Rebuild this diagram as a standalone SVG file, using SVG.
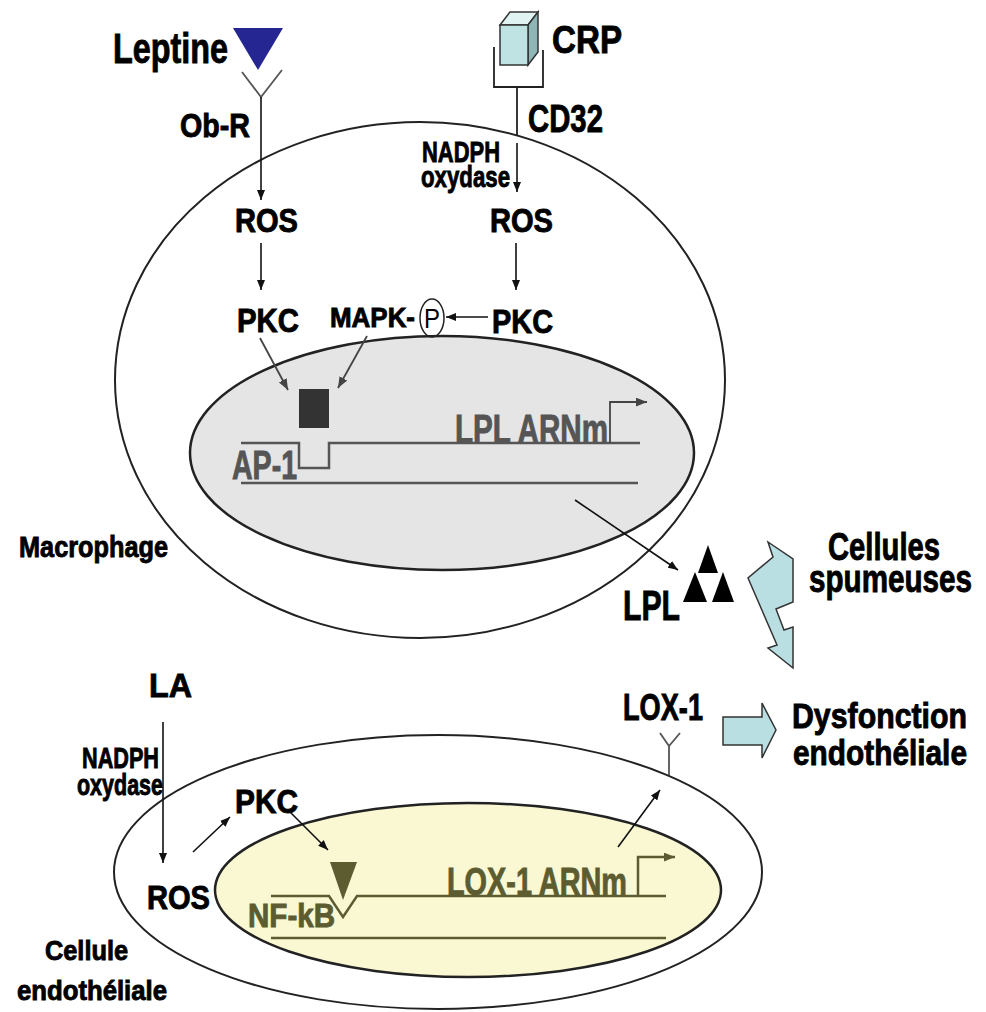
<svg xmlns="http://www.w3.org/2000/svg" width="986" height="1012" viewBox="0 0 986 1012">
  <style>
    .t { font-family: "Liberation Sans", Arial, sans-serif; font-weight: bold; fill: #000; stroke: #000; stroke-width: 0.9; }
    .g { fill: #555; stroke: #555; }
    .o { fill: #5c5c30; stroke: #5c5c30; }
    .cell { fill: none; stroke: #222; stroke-width: 2; }
    .ln { fill: none; stroke: #111; stroke-width: 1.6; }
    .lg { fill: none; stroke: #444; stroke-width: 1.8; }
    .dna { fill: none; stroke: #555; stroke-width: 2.5; }
    .dnao { fill: none; stroke: #5c5c30; stroke-width: 2.5; }
    .rec { fill: none; stroke: #555; stroke-width: 1.8; }
    .blk { fill: none; stroke: #222; stroke-width: 1.8; }
    .big { fill: #b9dfe3; stroke: #333; stroke-width: 1.5; }
  </style>
  <defs>
    <marker id="ah" viewBox="0 0 10 8" refX="10" refY="4" markerWidth="10" markerHeight="8" markerUnits="userSpaceOnUse" orient="auto">
      <path d="M0,0 L10,4 L0,8 z" fill="#111"/>
    </marker>
    <marker id="ahg" viewBox="0 0 10 8" refX="10" refY="4" markerWidth="11" markerHeight="9" markerUnits="userSpaceOnUse" orient="auto">
      <path d="M0,0 L10,4 L0,8 z" fill="#444"/>
    </marker>
    <marker id="aho" viewBox="0 0 10 8" refX="10" refY="4" markerWidth="11" markerHeight="9" markerUnits="userSpaceOnUse" orient="auto">
      <path d="M0,0 L10,4 L0,8 z" fill="#5c5c30"/>
    </marker>
  </defs>

  <rect width="986" height="1012" fill="#fff"/>

  <!-- macrophage -->
  <g id="macrophage">
    <ellipse class="cell" cx="420" cy="380" rx="305" ry="258"/>
    <text class="t" x="19" y="557" font-size="30" textLength="149" lengthAdjust="spacingAndGlyphs">Macrophage</text>
  </g>
  <g id="macrophage-nucleus">
    <ellipse cx="442" cy="453" rx="252" ry="117" fill="#e5e5e5" stroke="#222" stroke-width="2.5"/>
    <path class="dna" d="M241,443 H299 V468 H329 V443 H640"/>
    <path class="dna" d="M241,483 H638"/>
    <rect x="299" y="389" width="30" height="39" fill="#333"/>
    <text class="t g" x="232" y="479" font-size="40" textLength="65" lengthAdjust="spacingAndGlyphs">AP-1</text>
    <text class="t g" x="455" y="443" font-size="40" textLength="153" lengthAdjust="spacingAndGlyphs">LPL ARNm</text>
  </g>

  <!-- endothelial cell -->
  <g id="endothelial-cell">
    <ellipse class="cell" cx="438" cy="872" rx="324" ry="137"/>
    <text class="t" x="45" y="960" font-size="28" textLength="83" lengthAdjust="spacingAndGlyphs">Cellule</text>
    <text class="t" x="17" y="1000" font-size="28" textLength="150" lengthAdjust="spacingAndGlyphs">endothéliale</text>
  </g>
  <g id="endothelial-nucleus">
    <ellipse cx="468" cy="890" rx="253" ry="87" fill="#f9f8d3" stroke="#222" stroke-width="2.5"/>
    <path class="dnao" d="M271,896 H329 L343,917 L357,896 H666"/>
    <path class="dnao" d="M271,938 H666"/>
    <polygon points="330,862 357,862 343,900" fill="#5c5c30"/>
    <text class="t o" x="248" y="927" font-size="33" textLength="87" lengthAdjust="spacingAndGlyphs">NF-kB</text>
    <text class="t o" x="447" y="895" font-size="39" textLength="180" lengthAdjust="spacingAndGlyphs">LOX-1 ARNm</text>
  </g>

  <!-- leptin and its receptor -->
  <g id="leptine">
    <polygon points="233,28 283,28 258,70" fill="#262693"/>
    <text class="t" x="113" y="63" font-size="42" textLength="115" lengthAdjust="spacingAndGlyphs">Leptine</text>
  </g>
  <g id="ob-r">
    <path class="rec" d="M242,72 L261,97 L282,70"/>
    <text class="t" x="180" y="137" font-size="34" textLength="70" lengthAdjust="spacingAndGlyphs">Ob-R</text>
  </g>

  <!-- CRP and CD32 -->
  <g id="crp">
    <polygon points="500,25 510,12 538,12 528,25" fill="#e0f2f2" stroke="#333" stroke-width="1.5"/>
    <polygon points="528,25 538,12 538,52 528,65" fill="#8fb6b6" stroke="#333" stroke-width="1.5"/>
    <rect x="500" y="25" width="28" height="40" fill="#bfe3e3" stroke="#333" stroke-width="1.5"/>
    <text class="t" x="552" y="53" font-size="38" textLength="70" lengthAdjust="spacingAndGlyphs">CRP</text>
  </g>
  <g id="cd32">
    <path class="blk" d="M494,47 V87 H543 V50"/>
    <path class="blk" d="M517,87 V135"/>
    <text class="t" x="528" y="132" font-size="39" textLength="75" lengthAdjust="spacingAndGlyphs">CD32</text>
  </g>
  <g id="nadph-1">
    <text class="t" x="422" y="162" font-size="30" textLength="78" lengthAdjust="spacingAndGlyphs">NADPH</text>
    <text class="t" x="421" y="187" font-size="30" textLength="89" lengthAdjust="spacingAndGlyphs">oxydase</text>
  </g>

  <g id="ros-1"><text class="t" x="235" y="232" font-size="33" textLength="63" lengthAdjust="spacingAndGlyphs">ROS</text></g>
  <g id="ros-2"><text class="t" x="490" y="232" font-size="33" textLength="63" lengthAdjust="spacingAndGlyphs">ROS</text></g>
  <g id="pkc-1"><text class="t" x="237" y="332" font-size="34" textLength="62" lengthAdjust="spacingAndGlyphs">PKC</text></g>
  <g id="pkc-2"><text class="t" x="492" y="333" font-size="34" textLength="61" lengthAdjust="spacingAndGlyphs">PKC</text></g>
  <g id="mapk-p">
    <text class="t" x="330" y="327" font-size="28" textLength="85" lengthAdjust="spacingAndGlyphs">MAPK-</text>
    <ellipse cx="432" cy="318" rx="12" ry="19" fill="none" stroke="#222" stroke-width="1.5"/>
    <text x="432" y="328" font-family="Liberation Sans, Arial, sans-serif" font-size="28" text-anchor="middle" textLength="16" lengthAdjust="spacingAndGlyphs">P</text>
  </g>

  <!-- LPL product -->
  <g id="lpl">
    <polygon points="708,545 718,573 698,573" fill="#000"/>
    <polygon points="695,572 707,602 683,602" fill="#000"/>
    <polygon points="723,572 734,602 712,602" fill="#000"/>
    <text class="t" x="623" y="620" font-size="42" textLength="57" lengthAdjust="spacingAndGlyphs">LPL</text>
  </g>
  <g id="cellules-spumeuses">
    <text class="t" x="828" y="560" font-size="38" textLength="112" lengthAdjust="spacingAndGlyphs">Cellules</text>
    <text class="t" x="809" y="592" font-size="39" textLength="163" lengthAdjust="spacingAndGlyphs">spumeuses</text>
  </g>
  <g id="dysfonction">
    <text class="t" x="792" y="728" font-size="35" textLength="175" lengthAdjust="spacingAndGlyphs">Dysfonction</text>
    <text class="t" x="793" y="765" font-size="35" textLength="174" lengthAdjust="spacingAndGlyphs">endothéliale</text>
  </g>
  <g id="lox-1">
    <path class="rec" d="M660,733 L669,746 L680,733"/>
    <path class="rec" d="M669,746 V775"/>
    <text class="t" x="623" y="720" font-size="37" textLength="80" lengthAdjust="spacingAndGlyphs">LOX-1</text>
  </g>

  <!-- linoleic acid pathway -->
  <g id="la"><text class="t" x="149" y="697" font-size="34" textLength="43" lengthAdjust="spacingAndGlyphs">LA</text></g>
  <g id="nadph-2">
    <text class="t" x="82" y="768" font-size="29" textLength="77" lengthAdjust="spacingAndGlyphs">NADPH</text>
    <text class="t" x="77" y="795" font-size="29" textLength="86" lengthAdjust="spacingAndGlyphs">oxydase</text>
  </g>
  <g id="ros-3"><text class="t" x="147" y="909" font-size="33" textLength="63" lengthAdjust="spacingAndGlyphs">ROS</text></g>
  <g id="pkc-3"><text class="t" x="235" y="813" font-size="34" textLength="63" lengthAdjust="spacingAndGlyphs">PKC</text></g>

  <!-- connectors -->
  <g id="connectors">
    <path class="ln" d="M261,97 V200" marker-end="url(#ah)"/>
    <path class="ln" d="M517,143 V192" marker-end="url(#ah)"/>
    <path class="ln" d="M261,243 V290" marker-end="url(#ah)"/>
    <path class="ln" d="M516,243 V290" marker-end="url(#ah)"/>
    <path class="ln" d="M488,317 H446" marker-end="url(#ah)"/>
    <path class="lg" d="M260,338 L288,390" marker-end="url(#ahg)"/>
    <path class="lg" d="M367,336 L338,388" marker-end="url(#ahg)"/>
    <path class="lg" d="M610,443 V402 H647" marker-end="url(#ahg)"/>
    <path class="ln" d="M575,500 L678,570" marker-end="url(#ah)"/>
    <polygon class="big" points="768,542 793,559 793,602 776,609 784,630 793,627 793,668 768,648 777,645 748,578 773,557"/>
    <polygon class="big" points="723,717 762,717 762,703 776,730 762,758 762,745 723,745"/>
    <path class="ln" d="M163,722 V863" marker-end="url(#ah)"/>
    <path class="ln" d="M193,852 L230,817" marker-end="url(#ah)"/>
    <path class="ln" d="M290,812 L328,850" marker-end="url(#ah)"/>
    <path class="dnao" d="M638,896 V857 H675" marker-end="url(#aho)"/>
    <path class="ln" d="M618,847 L660,790" marker-end="url(#ah)"/>
  </g>
</svg>
